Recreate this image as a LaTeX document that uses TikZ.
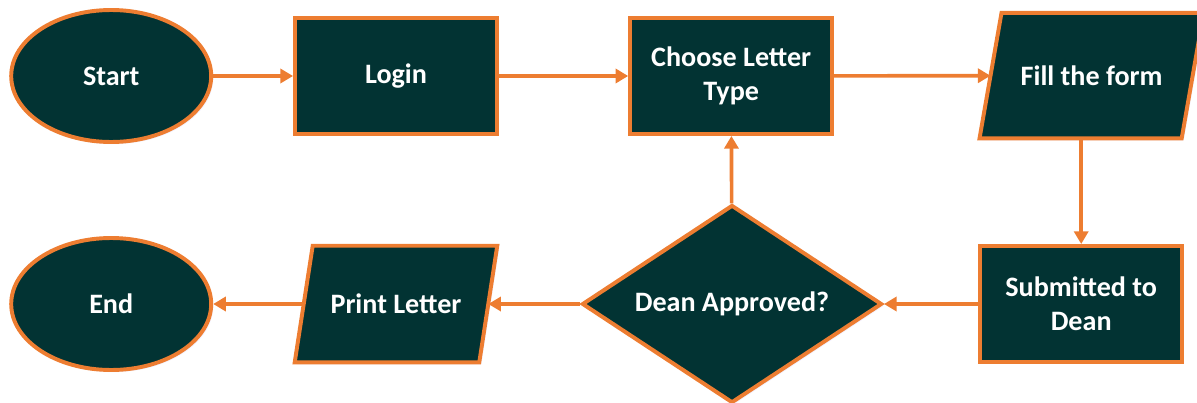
\documentclass[tikz,border=0pt]{standalone}
\usepackage{fontspec}
\setmainfont{Carlito}
\usetikzlibrary{shapes.geometric,arrows.meta,shadows,backgrounds}
\definecolor{boxfill}{RGB}{2,51,51}
\definecolor{boxline}{RGB}{237,125,49}
\begin{document}
\begin{tikzpicture}[
    shade box/.style={draw=boxline, fill=boxfill, line width=2.8pt,
        drop shadow={opacity=0.25, fill=blue!20, shadow xshift=1.5pt, shadow yshift=-1.5pt}},
    label text/.style={text=white, font=\fontsize{20}{24}\selectfont\bfseries,
        align=center, inner sep=0pt},
    box/.style={shade box, label text},
    term/.style={box, ellipse, minimum width=5.0cm, minimum height=3.3cm},
    proc/.style={box, rectangle, minimum width=5.05cm, minimum height=2.9cm},
    io/.style={label text, rectangle},
    decide/.style={box, diamond, aspect=1.52, minimum width=7.5cm, minimum height=4.95cm},
    flow/.style={boxline, line width=2.6pt, -{Triangle[length=9pt, width=10pt]}}
]
    \useasboundingbox (0,0) rectangle (29.925,-10.075);

    % Top row
    \node[term] (start) at (2.78,-1.9) {Start};
    \node[proc] (login) at (9.9,-1.9) {Login};
    \node[proc] (choose) at (18.28,-1.9) {Choose Letter\\Type};
    \node[io, minimum width=5.04cm, minimum height=3.125cm] (fill) at (27.29,-1.89) {Fill the form};

    % Bottom row
    \node[proc] (submit) at (27.03,-7.6) {Submitted to\\Dean};
    \node[decide] (dean) at (18.3,-7.6) {Dean Approved?};
    \node[io, minimum width=4.6cm, minimum height=2.9cm] (print) at (9.9,-7.6) {Print Letter};
    \node[term] (end) at (2.78,-7.6) {End};

    % Parallelograms behind the input/output labels
    \begin{scope}[on background layer]
        \foreach \n/\s in {fill/0.275, print/0.225} {
            \draw[shade box] ([xshift=\s cm]\n.north west) -- ([xshift=\s cm]\n.north east)
                -- ([xshift=-\s cm]\n.south east) -- ([xshift=-\s cm]\n.south west) -- cycle;
        }
    \end{scope}

    % Connectors
    \draw[flow] (start) -- (login);
    \draw[flow] (login) -- (choose);
    \draw[flow] (choose) -- (fill);
    \draw[flow] (fill.south -| submit.north) -- (submit.north);
    \draw[flow] (submit) -- (dean);
    \draw[flow] (dean) -- (choose);
    \draw[flow] (dean) -- (print);
    \draw[flow] (print) -- (end);
\end{tikzpicture}
\end{document}
